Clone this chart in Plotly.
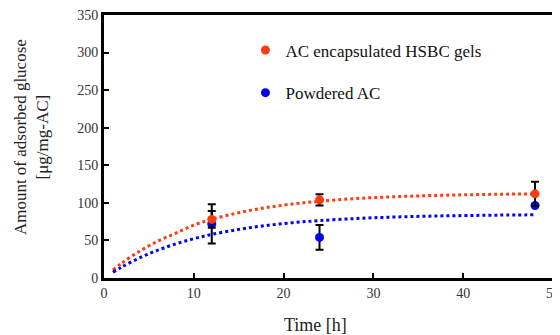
import plotly.graph_objects as go

# Measured points
time_h = [12, 24, 48]
gel_vals = [78, 104, 112]
gel_err = [11, 7.5, 16]
powder_vals = [72, 54, 96.5]
powder_err = [26, 16.5, 0]

# Fitted trend curves
curve_t = [1, 2, 4, 6, 8, 10, 12, 15, 18, 21, 24, 28, 32, 36, 40, 44, 48]
gel_curve = [10.5, 20.0, 36.0, 49.1, 59.6, 70.4, 78.0, 86.9, 93.5, 98.5, 102.1, 105.7, 108.0, 109.6, 110.7, 111.5, 112.0]
powder_curve = [7.7, 14.8, 27.0, 37.1, 45.4, 52.3, 58.0, 64.7, 69.8, 73.6, 76.4, 79.1, 81.0, 82.3, 83.1, 83.7, 84.1]

x_title = "Time [h]"
y_title = "Amount of adsorbed glucose<br>[μg/mg-AC]"

RED = "#FF3B0F"
BLUE = "#0000FF"
FONT = "Liberation Serif, DejaVu Serif, serif"

fig = go.Figure()
fig.add_trace(go.Scatter(x=curve_t, y=gel_curve, mode="lines", line=dict(color=RED, width=3, dash="dot", shape="spline"), showlegend=False, hoverinfo="skip"))
fig.add_trace(go.Scatter(x=curve_t, y=powder_curve, mode="lines", line=dict(color=BLUE, width=3, dash="dot", shape="spline"), showlegend=False, hoverinfo="skip"))
fig.add_trace(go.Scatter(x=time_h, y=powder_vals, mode="markers", name="Powdered AC",
                         marker=dict(color=BLUE, size=9),
                         error_y=dict(type="data", array=powder_err, color="black", thickness=2, width=4),
                         legend="legend2"))
fig.add_trace(go.Scatter(x=time_h, y=gel_vals, mode="markers", name="AC encapsulated HSBC gels",
                         marker=dict(color=RED, size=9),
                         error_y=dict(type="data", array=gel_err, color="black", thickness=2, width=4),
                         legend="legend"))

axis_common = dict(showline=True, linecolor="black", linewidth=3, mirror=True,
                   ticks="inside", ticklen=5, tickwidth=2, tickcolor="black",
                   showgrid=False, zeroline=False, automargin=False,
                   ticklabeloverflow="allow",
                   tickfont=dict(family=FONT, size=14, color="#333"))

fig.update_xaxes(range=[0, 50], dtick=10, **axis_common)
fig.update_yaxes(range=[0, 350], dtick=50, **axis_common)

fig.add_annotation(text=x_title, xref="paper", yref="paper", x=0.471, y=-0.179,
                   xanchor="center", yanchor="middle", showarrow=False,
                   font=dict(family=FONT, size=18, color="#222"))
fig.add_annotation(text=y_title, xref="paper", yref="paper", x=-0.163, y=0.535,
                   xanchor="center", yanchor="middle", showarrow=False, textangle=-90,
                   font=dict(family=FONT, size=17, color="#222"))

leg_common = dict(xanchor="left", yanchor="middle", bgcolor="rgba(0,0,0,0)",
                  font=dict(family=FONT, size=17, color="#111"), itemwidth=30)
fig.update_layout(
    width=552, height=327,
    margin=dict(l=96, r=7, t=7, b=57),
    plot_bgcolor="white", paper_bgcolor="white",
    legend=dict(x=0.315, y=0.865, **leg_common),
    legend2=dict(x=0.315, y=0.703, **leg_common),
)

fig.write_html("out.html")
